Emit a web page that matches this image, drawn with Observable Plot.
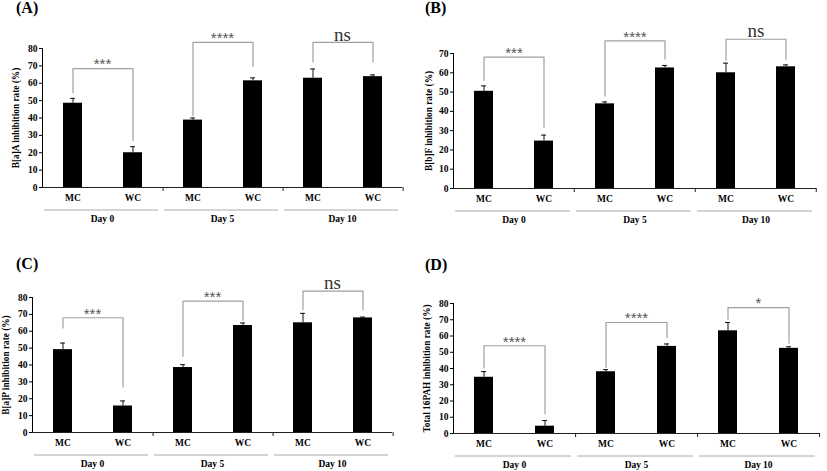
<!DOCTYPE html>
<html><head><meta charset="utf-8">
<script src="https://cdn.jsdelivr.net/npm/d3@7"></script>
<script src="https://cdn.jsdelivr.net/npm/@observablehq/plot@0.6"></script>
<style>
body{margin:0;background:#fff;}
#root{position:relative;width:827px;height:471px;overflow:hidden;}
.panel{position:absolute;}
.tag{position:absolute;font:bold 16px "Liberation Serif",serif;line-height:1;color:#000;}
</style></head><body><div id="root"></div>
<script>
const days = ["Day 0", "Day 5", "Day 10"];
const groups = ["MC", "WC"];
const titles = ["(A)", "(B)", "(C)", "(D)"];
const yLabels = ["B[a]A inhibition rate (%)", "B[b]F inhibition rate (%)", "B[a]P inhibition rate (%)", "Total 16PAH inhibition rate (%)"];
const yMax = [80, 70, 80, 80];

// order: Day 0 MC, Day 0 WC, Day 5 MC, Day 5 WC, Day 10 MC, Day 10 WC
const meanA = [48.5, 20.0, 38.8, 61.4, 62.9, 63.8];
const errA  = [2.8, 3.5, 1.2, 1.7, 5.3, 1.0];
const meanB = [50.4, 24.6, 43.9, 62.5, 60.0, 63.1];
const errB  = [2.8, 3.1, 1.0, 1.3, 5.0, 1.0];
const meanC = [49.1, 15.7, 38.5, 63.4, 65.0, 67.9];
const errC  = [3.9, 3.0, 1.7, 1.5, 5.6, 0.5];
const meanD = [34.6, 4.5, 38.0, 53.6, 63.2, 52.4];
const errD  = [3.5, 3.5, 1.3, 1.5, 5.1, 1.0];

// significance brackets per day: label, bracket height, MC leg end, WC leg end
const sigA = ["***", "****", "ns"];
const topA = [68.4, 83.5, 83.5];
const legMcA = [54.6, 41.4, 72.3];
const legWcA = [27.0, 69.8, 72.3];
const sigB = ["***", "****", "ns"];
const topB = [68.1, 76.5, 77.4];
const legMcB = [56.1, 47.9, 66.5];
const legWcB = [31.7, 67.1, 67.0];
const sigC = ["***", "***", "ns"];
const topC = [68.0, 77.9, 83.8];
const legMcC = [62.0, 45.2, 72.8];
const legWcC = [27.0, 66.5, 72.8];
const sigD = ["****", "****", "*"];
const topD = [54.0, 68.3, 77.5];
const legMcD = [40.3, 40.7, 70.3];
const legWcD = [12.1, 59.1, 55.6];

const series = [
  [meanA, errA, sigA, topA, legMcA, legWcA],
  [meanB, errB, sigB, topB, legMcB, legWcB],
  [meanC, errC, sigC, topC, legMcC, legWcC],
  [meanD, errD, sigD, topD, legMcD, legWcD]
];

// layout (pixels)
const layouts = [
  {left: 0,   top: 0,   width: 414, height: 235, ml: 41, mr: 11, mt: 48, mb: 48, labDx: -26, tagL: 16,  tagT: 0},
  {left: 414, top: 0,   width: 413, height: 235, ml: 38, mr: 11, mt: 53, mb: 47, labDx: -24, tagL: 425, tagT: 0},
  {left: 0,   top: 240, width: 414, height: 231, ml: 31, mr: 21, mt: 57, mb: 39, labDx: -26, tagL: 16,  tagT: 256},
  {left: 414, top: 240, width: 413, height: 231, ml: 38, mr: 7,  mt: 63, mb: 38, labDx: -26, tagL: 425, tagT: 257}
];
const pIn = 0.685, pOut = 0.34;
const font = "'Liberation Serif', 'Times New Roman', serif";

const root = document.getElementById("root");

series.forEach(([mean, err, sig, top, legMc, legWc], i) => {
  const L = layouts[i];
  const bars = [];
  days.forEach((d, di) => groups.forEach((g, gi) => {
    const k = di * 2 + gi;
    bars.push({day: d, group: g, value: mean[k], hi: mean[k] + err[k]});
  }));
  const brackets = days.map((d, di) => ({day: d, top: top[di], label: sig[di]}));
  const path = days.flatMap((d, di) => [
    {day: d, group: "MC", y: legMc[di]},
    {day: d, group: "MC", y: top[di]},
    {day: d, group: "WC", y: top[di]},
    {day: d, group: "WC", y: legWc[di]}
  ]);
  const fw = (L.width - L.ml - L.mr) / 3;
  const step = fw / (2 - pIn + 2 * pOut);
  const edgeDx = pOut * step + (1 - pIn) * step / 2;

  const chart = Plot.plot({
    width: L.width, height: L.height,
    marginLeft: L.ml, marginRight: L.mr, marginTop: L.mt, marginBottom: L.mb,
    style: {fontFamily: font, fontWeight: "bold", fontSize: "9.5px", color: "#000", background: "transparent", overflow: "visible"},
    fx: {domain: days, padding: 0, label: null, axis: "bottom", tickSize: 0, tickPadding: 28},
    x: {domain: groups, paddingInner: pIn, paddingOuter: pOut, label: null, tickSize: 0, tickPadding: 7},
    y: {domain: [0, yMax[i]], ticks: d3.range(0, yMax[i] + 1, 10), label: null, tickSize: 3, tickPadding: 2, line: true},
    marks: [
      Plot.barY(bars, {fx: "day", x: "group", y: "value", fill: "#000"}),
      Plot.ruleX(bars, {fx: "day", x: "group", y1: "value", y2: "hi", stroke: "#111"}),
      Plot.tickY(bars, {fx: "day", x: "group", y: "hi", insetLeft: 7, insetRight: 7, stroke: "#111"}),
      Plot.ruleY([0], {stroke: "#222"}),
      Plot.ruleX(["WC"], {x: d => d, y1: 0, y2: 0, insetTop: 4, dx: edgeDx, stroke: "#222"}),
      Plot.ruleY([0], {dy: 22.5, stroke: "#aaa", insetLeft: 2, insetRight: 4}),
      Plot.line(path, {fx: "day", x: "group", y: "y", z: "day", stroke: "#a0a0a0", strokeWidth: 1.2}),
      Plot.text(brackets.filter(b => b.label !== "ns"), {fx: "day", y: "top", text: "label", dy: -4, fontSize: 15, fontWeight: "normal", fontFamily: "'Liberation Sans', Arial, sans-serif", fill: "#555"}),
      Plot.text(brackets.filter(b => b.label === "ns"), {fx: "day", y: "top", text: "label", dy: -8, fontSize: 19, fontWeight: "normal", fontFamily: font, fill: "#333"}),
      Plot.text([yLabels[i]], {fx: () => days[0], text: d => d, frameAnchor: "left", textAnchor: "middle", rotate: -90, dx: L.labDx, fontSize: 9.3, fontWeight: "bold", fill: "#000"})
    ]
  });
  const div = document.createElement("div");
  div.className = "panel";
  div.style.left = L.left + "px";
  div.style.top = L.top + "px";
  div.appendChild(chart);
  root.appendChild(div);

  const tag = document.createElement("div");
  tag.className = "tag";
  tag.textContent = titles[i];
  tag.style.left = L.tagL + "px";
  tag.style.top = L.tagT + "px";
  root.appendChild(tag);
});
</script>
</body></html>
